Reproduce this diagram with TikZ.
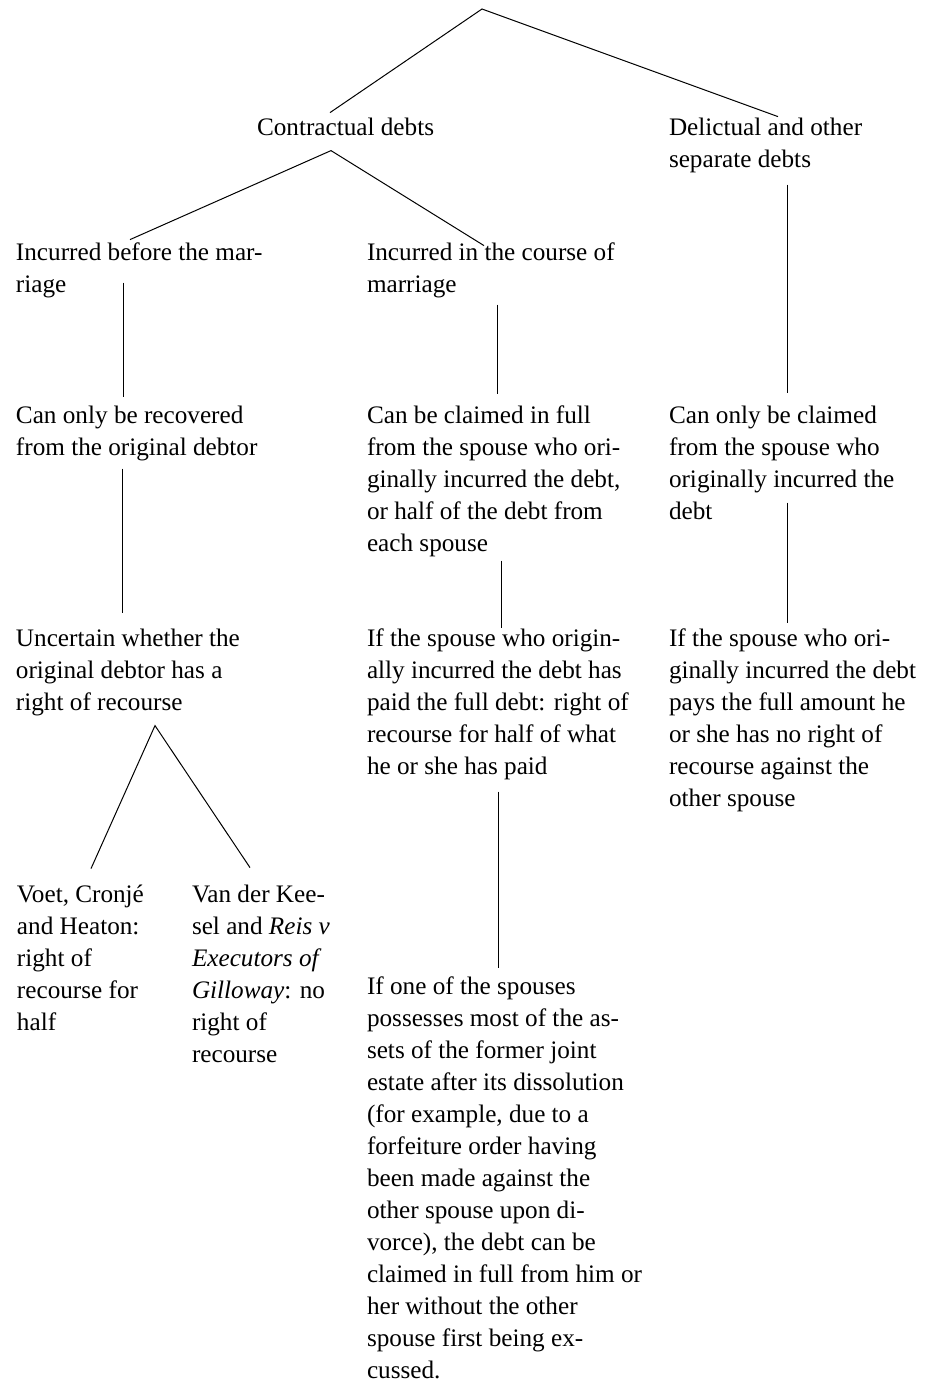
\documentclass[tikz,border=0pt]{standalone}
\usepackage{fontspec}
\setmainfont{Liberation Serif}
\usetikzlibrary{calc}
% a left-aligned block of lines whose baseline is that of its first line
\newcommand\blk[1]{\begin{tabular}[t]{@{}l@{}}#1\end{tabular}}

\begin{document}
\begin{tikzpicture}[x=0.5pt,y=-0.5pt,
  txt/.style={anchor=base west,inner sep=0pt,outer sep=0pt,
              font=\fontsize{12.6}{16}\selectfont},
  branch/.style={line width=0.5pt,line join=miter}]
\useasboundingbox (0,0) rectangle (935,1383);

% ---- text blocks ----
\node[txt] (cd) at (257,135) {\blk{Contractual debts}};
\node[txt] (dl) at (669,135) {\blk{Delictual and other\\separate debts}};
\node[txt] (ib) at (16,260) {\blk{Incurred before the mar-\\riage}};
\node[txt] (ic) at (367,260) {\blk{Incurred in the course of\\marriage}};
\node[txt] (cr) at (16,423) {\blk{Can only be recovered\\from the original debtor}};
\node[txt] (cc) at (367,423) {\blk{Can be claimed in full\\from the spouse who ori-\\ginally incurred the debt,\\or half of the debt from\\each spouse}};
\node[txt] (oc) at (669,423) {\blk{Can only be claimed\\from the spouse who\\originally incurred the\\debt}};
\node[txt] (un) at (16,646) {\blk{Uncertain whether the\\original debtor has a\\right of recourse}};
\node[txt] (ro) at (367,646) {\blk{If the spouse who origin-\\ally incurred the debt has\\paid the full debt: right of\\recourse for half of what\\he or she has paid}};
\node[txt] (nr) at (669,646) {\blk{If the spouse who ori-\\ginally incurred the debt\\pays the full amount he\\or she has no right of\\recourse against the\\other spouse}};
\node[txt] (vo) at (17,902) {\blk{Voet, Cronjé\\and Heaton:\\right of\\recourse for\\half}};
\node[txt] (vk) at (192,902) {\blk{Van der Kee-\\sel and \textit{Reis v}\\\textit{Executors of}\\\textit{Gilloway}: no\\right of\\recourse}};
\node[txt] (ex) at (367,994) {\blk{If one of the spouses\\possesses most of the as-\\sets of the former joint\\estate after its dissolution\\(for example, due to a\\forfeiture order having\\been made against the\\other spouse upon di-\\vorce), the debt can be\\claimed in full from him or\\her without the other\\spouse first being ex-\\cussed.}};

% ---- fork points ----
\coordinate (root) at (482,9);
\coordinate (cdfork) at ($(cd.south west)+(74,6)$);
\coordinate (unfork) at ($(un.south west)+(139,6)$);

% ---- branches ----
\draw[branch] ($(cd.north west)+(73,0)$) -- (root) -- ($(dl.north west)+(109,4)$);
\draw[branch] ($(ib.north west)+(114,2)$) -- (cdfork) -- ($(ic.north west)+(117,8)$);
\draw[branch] ($(ib.north west)+(107,45)$) -- ($(cr.north west)+(107,-4)$);
\draw[branch] ($(ic.south west)+(130,3)$) -- ($(cc.north west)+(130,-7)$);
\draw[branch] ($(dl.south west)+(118,8)$) -- ($(oc.north west)+(118,-8)$);
\draw[branch] ($(cr.south west)+(106,4)$) -- ($(un.north west)+(106,-11)$);
\draw[branch] ($(cc.south west)+(134,0)$) -- ($(ro.north west)+(134,4)$);
\draw[branch] ($(oc.north west)+(118,102)$) -- ($(nr.north west)+(118,-1)$);
\draw[branch] ($(vo.north west)+(74,-11)$) -- (unfork) -- ($(vk.north west)+(58,-12)$);
\draw[branch] ($(ro.south west)+(131,8)$) -- ($(ex.north west)+(131,-4)$);
\end{tikzpicture}
\end{document}
